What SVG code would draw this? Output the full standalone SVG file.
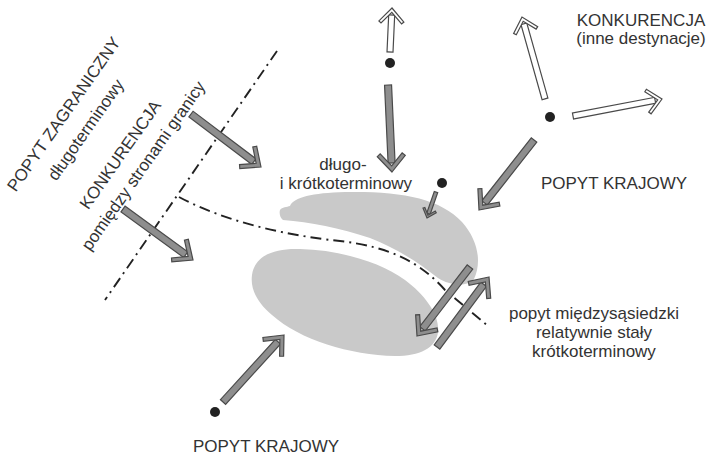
<svg xmlns="http://www.w3.org/2000/svg" xmlns:xlink="http://www.w3.org/1999/xlink" width="709" height="457" viewBox="0 0 709 457">
<style>
text{font-family:"Liberation Sans",Arial,sans-serif;font-size:17px;fill:#333}
.mid{text-anchor:middle}
.blob{fill:#c9c9c9}
.ag{fill:#8e8e8e;stroke:#4a4a4a;stroke-width:1.2;stroke-linejoin:miter}
.aw{fill:#fff;stroke:#4a4a4a;stroke-width:1.2;stroke-linejoin:miter}
.dd{fill:none;stroke:#222;stroke-width:1.9;stroke-dasharray:11 5 2 5}
.dot{fill:#222}
</style>
<defs>
<polygon id="headG" points="0,0 -16,-14 -18.6,-11 -6.1,0 -18.6,11 -16,14"/>
<polygon id="headW" points="0,0 -13.5,-12.5 -15.5,-10.3 -4.4,0 -15.5,10.3 -13.5,12.5"/>
<polygon id="headS" points="0,0 -8,-7 -9.3,-5.5 -3,0 -9.3,5.5 -8,7"/>
</defs>
<rect width="709" height="457" fill="#fff"/>

<g id="blobs">
<path class="blob" d="M280,210 C282,207 287,207 290,206 C294,197 312,193 345,192 C400,191 440,198 462,222 C478,240 482,262 474,279 C468,287 450,286 438,278 C420,264 400,250 370,238 C340,228 310,222 283,220 C280,218 279,213 280,210 Z"/>
<path class="blob" d="M252,275 C255,255 275,248 300,249 C340,250 380,262 405,280 C425,295 440,315 438,332 C436,348 420,356 395,356 C350,355 300,340 272,315 C258,303 250,290 252,275 Z"/>
</g>

<g id="boundaries">
<path class="dd" d="M277,51 L105,300"/>
<path class="dd" d="M179,197 C225,222 290,236 340,241 C390,247 420,262 445,290 L488,326"/>
</g>

<g id="dots">
<circle class="dot" cx="390" cy="63" r="5"/>
<circle class="dot" cx="550" cy="117" r="5"/>
<circle class="dot" cx="442" cy="183" r="5"/>
<circle class="dot" cx="215" cy="412" r="5"/>
</g>

<g id="connectors">
<g transform="translate(392,8) rotate(-87.4)"><rect class="aw" x="-44" y="-3" width="37" height="6"/><use href="#headW" class="aw"/></g>
<g transform="translate(392,172) rotate(87.4)"><rect class="ag" x="-87" y="-3.5" width="78" height="7"/><use href="#headG" class="ag"/></g>
<g transform="translate(522,17) rotate(-105.7)"><rect class="aw" x="-85" y="-3" width="78" height="6"/><use href="#headW" class="aw"/></g>
<g transform="translate(662,99) rotate(-10.8)"><rect class="aw" x="-90.6" y="-3" width="83.6" height="6"/><use href="#headW" class="aw"/></g>
<g transform="translate(479,210) rotate(128.2)"><rect class="ag" x="-89" y="-3.5" width="80" height="7"/><use href="#headG" class="ag"/></g>
<g transform="translate(427,218) rotate(109.1)"><rect class="ag" x="-27.5" y="-1.8" width="23" height="3.6"/><use href="#headS" class="ag"/></g>
<g transform="translate(261,167) rotate(37.1)"><rect class="ag" x="-87.8" y="-3.5" width="78.8" height="7"/><use href="#headG" class="ag"/></g>
<g transform="translate(193,260) rotate(36.1)"><rect class="ag" x="-86.6" y="-3.5" width="77.6" height="7"/><use href="#headG" class="ag"/></g>
<g transform="translate(284,335) rotate(-47.7)"><rect class="ag" x="-90.6" y="-3.5" width="81.6" height="7"/><use href="#headG" class="ag"/></g>
<g transform="translate(417,336) rotate(127.5)"><rect class="ag" x="-87" y="-3.5" width="78" height="7"/><use href="#headG" class="ag"/></g>
<g transform="translate(489,277) rotate(-53.4)"><rect class="ag" x="-87.2" y="-3.5" width="78.2" height="7"/><use href="#headG" class="ag"/></g>
</g>

<g id="label-konkurencja-inne">
<text class="mid" x="641" y="26">KONKURENCJA</text>
<text class="mid" x="641" y="44">(inne destynacje)</text>
</g>
<g id="label-popyt-krajowy-right">
<text class="mid" x="614" y="189">POPYT KRAJOWY</text>
</g>
<g id="label-dlugo">
<text class="mid" x="343" y="170">długo-</text>
<text class="mid" x="346" y="189">i krótkoterminowy</text>
</g>
<g id="label-miedzysasiedzki">
<text class="mid" x="594" y="319">popyt międzysąsiedzki</text>
<text class="mid" x="594" y="338">relatywnie stały</text>
<text class="mid" x="594" y="357">krótkoterminowy</text>
</g>
<g id="label-popyt-krajowy-bottom">
<text class="mid" x="266" y="452">POPYT KRAJOWY</text>
</g>
<g id="label-zagraniczny">
<text class="mid" transform="translate(68.5,117.5) rotate(-55)">POPYT ZAGRANICZNY</text>
<text class="mid" transform="translate(90.5,133) rotate(-55)">długoterminowy</text>
</g>
<g id="label-konkurencja-granica">
<text class="mid" transform="translate(125,158) rotate(-55)">KONKURENCJA</text>
<text class="mid" transform="translate(148,169) rotate(-55)">pomiędzy stronami granicy</text>
</g>
</svg>
